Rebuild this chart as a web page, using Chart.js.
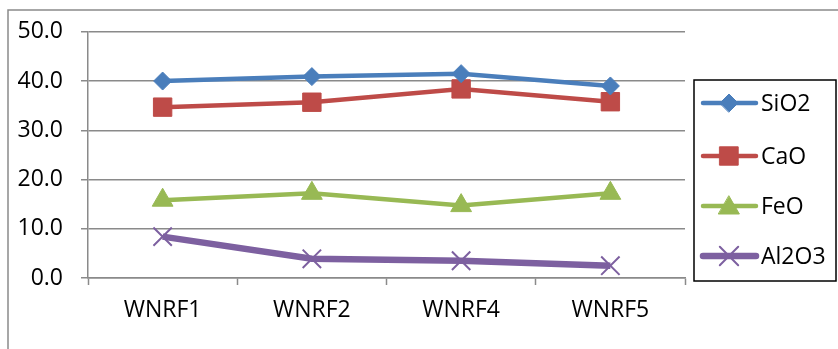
<!DOCTYPE html>
<html>
<head>
<meta charset="utf-8">
<script src="https://cdn.jsdelivr.net/npm/chart.js@4"></script>
<style>
  html, body { margin: 0; padding: 0; background: #fff; overflow: hidden; }
  #chart { display: block; }
</style>
</head>
<body>
<canvas id="chart" width="838" height="349"></canvas>
<script>
// values
const categories = ["WNRF1", "WNRF2", "WNRF4", "WNRF5"];
const sio2 = [40.0, 40.9, 41.5, 39.0];
const cao = [34.7, 35.7, 38.4, 35.8];
const feo = [15.8, 17.2, 14.7, 17.2];
const al2o3 = [8.4, 3.9, 3.5, 2.5];
const yTicks = [0, 10, 20, 30, 40, 50];

const FONT = "'Open Sans', sans-serif";
const FONT_SIZE = 23;
const GRID = "#8a8a8a";

// frame round the whole chart + the boxed legend on the right
const frameAndLegend = {
  id: "frameAndLegend",
  beforeDraw(chart) {
    const ctx = chart.ctx;
    ctx.save();
    ctx.strokeStyle = "#8a8a8a";
    ctx.lineWidth = 1.5;
    ctx.strokeRect(8, 10, 900, 400);
    ctx.restore();
  },
  afterDraw(chart) {
    const ctx = chart.ctx;
    ctx.save();
    ctx.strokeStyle = "#000";
    ctx.lineWidth = 1.5;
    ctx.strokeRect(694, 80, 142, 201);

    const rows = [103, 156, 206, 256];
    chart.data.datasets.forEach((ds, i) => {
      const y = rows[i];
      ctx.strokeStyle = ds.borderColor;
      ctx.lineWidth = ds.borderWidth;
      ctx.lineCap = "round";
      ctx.beginPath();
      ctx.moveTo(703, y);
      ctx.lineTo(756, y);
      ctx.stroke();

      ctx.fillStyle = ds.pointBackgroundColor;
      ctx.strokeStyle = ds.pointBorderColor;
      ctx.lineWidth = ds.pointBorderWidth;
      Chart.helpers.drawPoint(ctx, {
        pointStyle: ds.pointStyle,
        radius: ds.pointRadius,
        rotation: 0,
        borderWidth: ds.pointBorderWidth,
      }, 729, ds.pointStyle === "triangle" ? y + 2 : y);

      ctx.fillStyle = "#000";
      ctx.font = FONT_SIZE + "px " + FONT;
      ctx.textBaseline = "middle";
      ctx.textAlign = "left";
      ctx.fillText(ds.label, 761, y + 1);
    });
    ctx.restore();
  },
};

const series = [
  { label: "SiO2", data: sio2, color: "#4a7ebb", style: "rectRot", r: 9, w: 4.5, pw: 1 },
  { label: "CaO", data: cao, color: "#be4b48", style: "rect", r: 13, w: 4.5, pw: 1 },
  { label: "FeO", data: feo, color: "#98b954", style: "triangle", r: 12, w: 4.5, pw: 1 },
  { label: "Al2O3", data: al2o3, color: "#7d60a0", style: "crossRot", r: 13, w: 6.5, pw: 2 },
];

new Chart(document.getElementById("chart"), {
  type: "line",
  data: {
    labels: categories,
    datasets: series.map((s) => ({
      label: s.label,
      data: s.data,
      borderColor: s.color,
      backgroundColor: s.color,
      borderWidth: s.w,
      pointStyle: s.style,
      pointRadius: s.r,
      pointHoverRadius: s.r,
      pointBackgroundColor: s.color,
      pointBorderColor: s.color,
      pointBorderWidth: s.pw,
      tension: 0,
    })),
  },
  options: {
    responsive: false,
    devicePixelRatio: 1,
    animation: false,
    layout: { padding: { left: 8, top: 31, right: 153, bottom: 0 } },
    plugins: {
      legend: { display: false },
      tooltip: { enabled: false },
    },
    scales: {
      x: {
        offset: true,
        grid: {
          display: true,
          offset: true,
          drawOnChartArea: false,
          drawTicks: true,
          tickLength: 7,
          tickColor: GRID,
          tickWidth: 1.5,
        },
        border: { display: true, color: GRID, width: 1.5 },
        ticks: { color: "#000", font: { family: FONT, size: FONT_SIZE }, padding: 12 },
        afterFit: (scale) => { scale.height = 71; },
      },
      y: {
        min: 0,
        max: 50,
        afterBuildTicks: (scale) => { scale.ticks = yTicks.map((v) => ({ value: v })); },
        grid: {
          color: GRID,
          lineWidth: 1.5,
          tickLength: 7,
          tickColor: GRID,
        },
        border: { display: true, color: GRID, width: 1.5 },
        ticks: {
          color: "#000",
          font: { family: FONT, size: FONT_SIZE },
          padding: 18,
          callback: (v) => Number(v).toFixed(1),
        },
        afterFit: (scale) => { scale.width = 80; },
      },
    },
  },
  plugins: [frameAndLegend],
});
</script>
</body>
</html>
